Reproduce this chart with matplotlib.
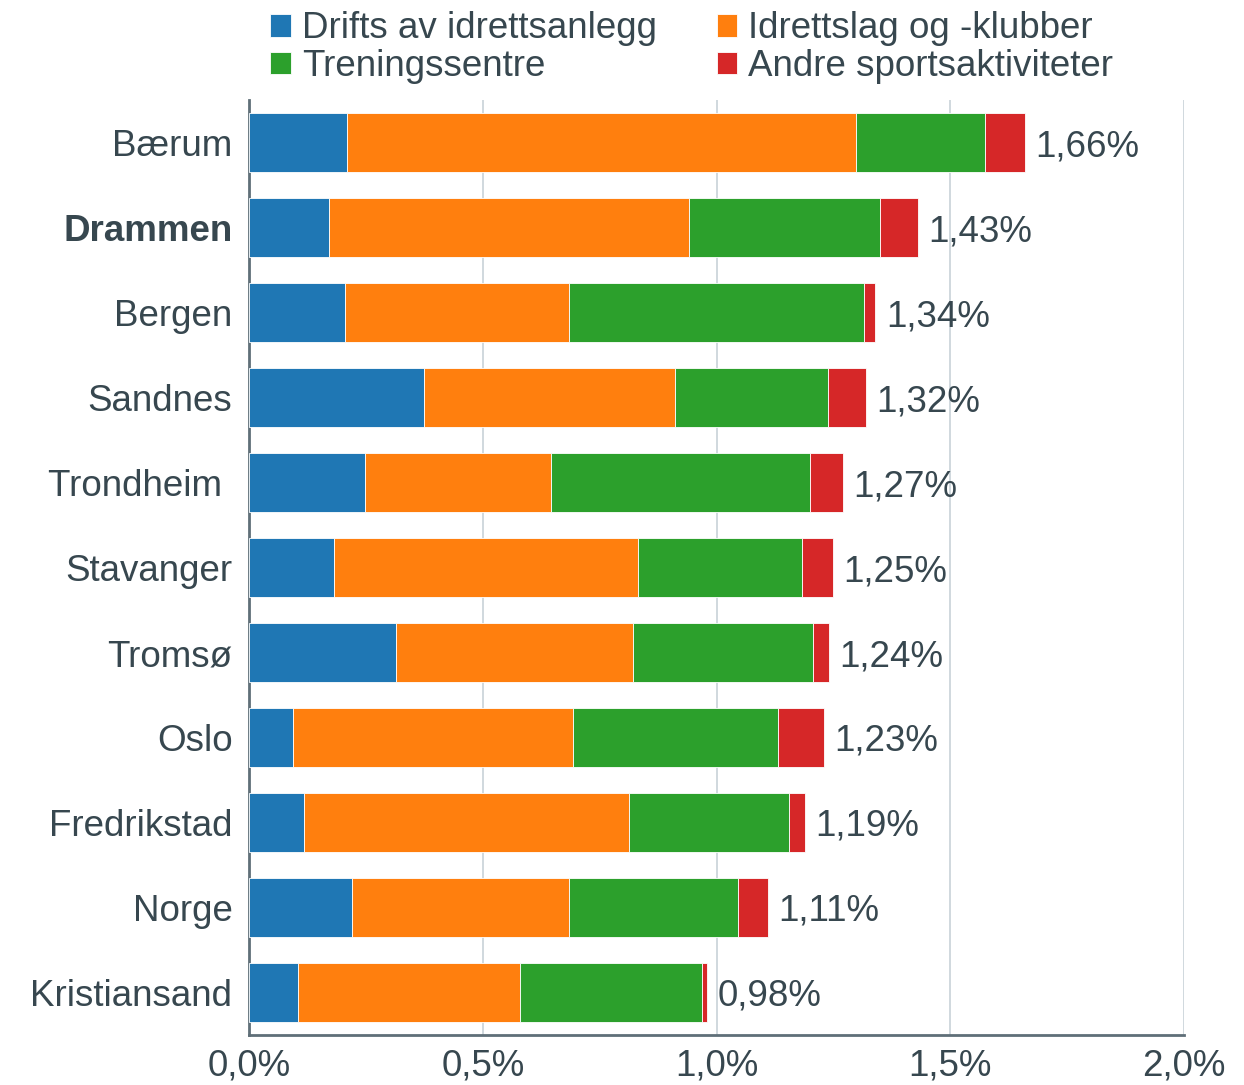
import matplotlib.pyplot as plt
import numpy as np

# places, top to bottom
places = ["Bærum", "Drammen", "Bergen", "Sandnes", "Trondheim ", "Stavanger",
          "Tromsø", "Oslo", "Fredrikstad", "Norge", "Kristiansand"]

# shares of employment, percent
drift = [0.210, 0.171, 0.206, 0.375, 0.248, 0.182, 0.315, 0.094, 0.118, 0.221, 0.105]
klubber = [1.088, 0.771, 0.479, 0.537, 0.397, 0.649, 0.507, 0.600, 0.694, 0.464, 0.475]
trening = [0.276, 0.407, 0.630, 0.326, 0.554, 0.351, 0.384, 0.437, 0.342, 0.360, 0.388]
andre = [0.086, 0.081, 0.025, 0.082, 0.071, 0.068, 0.034, 0.099, 0.036, 0.065, 0.012]

series_names = ["Drifts av idrettsanlegg", "Idrettslag og -klubber",
                "Treningssentre", "Andre sportsaktiviteter"]
series_colors = ["#1f77b4", "#ff7f0e", "#2ca02c", "#d62728"]

text_col = "#37474f"
fs = 26.5
plt.rcParams['font.family'] = ['Liberation Sans', 'DejaVu Sans']

fig = plt.figure(figsize=(12.44, 10.85), dpi=100)
ax = fig.add_axes([0.2002, 0.0461, 0.7516, 0.8617])

y = np.arange(len(places))
left = np.zeros(len(places))
handles = []
for vals, name, col in zip([drift, klubber, trening, andre], series_names, series_colors):
    h = ax.barh(y, vals, left=left, height=0.7, color=col, label=name,
                edgecolor="white", linewidth=0.6, zorder=3)
    handles.append(h)
    left += np.array(vals)

for yi, tot in zip(y, left):
    ax.text(tot + 0.022, yi, f"{tot:.2f}%".replace(".", ","), va="center_baseline",
            ha="left", fontsize=fs, color=text_col)

ax.set_ylim(len(places) - 0.5, -0.5)
ax.set_xlim(0, 2.0)
ax.set_yticks(y)
ax.set_yticklabels(places, fontsize=fs, color=text_col)
ax.get_yticklabels()[1].set_fontweight("bold")
xt = [0, 0.5, 1.0, 1.5, 2.0]
ax.set_xticks(xt)
ax.set_xticklabels([f"{v:.1f}%".replace(".", ",") for v in xt], fontsize=fs, color=text_col)
ax.tick_params(axis="y", length=0, pad=12)
ax.tick_params(axis="x", length=0, pad=10)
ax.grid(axis="x", color="#c8d2d8", linewidth=1.2, zorder=0)
for s in ["top", "right"]:
    ax.spines[s].set_visible(False)
for s in ["left", "bottom"]:
    ax.spines[s].set_color("#5f6f78")
    ax.spines[s].set_linewidth(2)

# row-wise legend order: matplotlib fills columns first
order = [0, 2, 1, 3]
leg = fig.legend(handles=[handles[i] for i in order],
                 labels=[series_names[i] for i in order], loc="upper left",
                 bbox_to_anchor=(0.2055, 1.003), ncol=2, frameon=False, fontsize=fs,
                 handlelength=0.55, handleheight=0.55, handletextpad=0.3,
                 columnspacing=1.63, labelspacing=0.06, borderaxespad=0)
for t in leg.get_texts():
    t.set_color(text_col)

fig.savefig("out.png", dpi=100)
